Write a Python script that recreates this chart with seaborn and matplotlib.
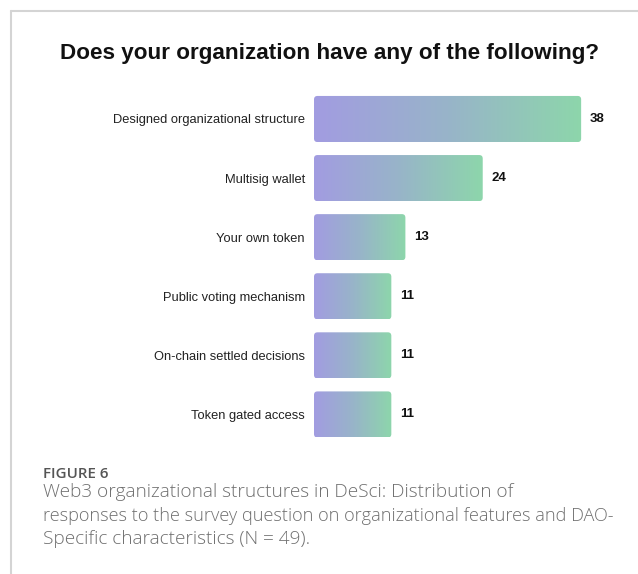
import numpy as np
import pandas as pd
import matplotlib
matplotlib.use("Agg")
import matplotlib.pyplot as plt
import seaborn as sns
from matplotlib.patches import FancyBboxPatch
from matplotlib.colors import LinearSegmentedColormap
from matplotlib.lines import Line2D

categories = ["Designed organizational structure", "Multisig wallet", "Your own token",
              "Public voting mechanism", "On-chain settled decisions", "Token gated access"]
values = [38, 24, 13, 11, 11, 11]
title = "Does your organization have any of the following?"
fig_label = "FIGURE 6"
caption_lines = ["Web3 organizational structures in DeSci: Distribution of",
                 "responses to the survey question on organizational features and DAO-",
                 "Specific characteristics (N = 49)."]

df = pd.DataFrame({"category": categories, "value": values})

sns.set_theme(style="white")
plt.rcParams['font.family'] = ['Liberation Sans', 'DejaVu Sans']

W, H = 638, 574
fig = plt.figure(figsize=(W/100, H/100), dpi=100)
ax = fig.add_axes([314/W, 1-444/H, (620-314)/W, (444-89.45)/H])

sns.barplot(data=df, x="value", y="category", orient="h", width=0.78, ax=ax, color="#a29de0")
ax.set_xlim(0, 306/7.03)
ax.set_ylim(5.5, -0.5)

cmap = LinearSegmentedColormap.from_list("g", ["#a29ce1", "#98b4c9", "#8dd6ab"])
grad = np.linspace(0, 1, 256).reshape(1, -1)
px_x = 7.03
px_y = 59.1
for p in list(ax.patches):
    x0, y0, w, h = p.get_x(), p.get_y(), p.get_width(), p.get_height()
    p.set_visible(False)
    r = 3.5/px_x
    fb = FancyBboxPatch((x0, y0), w, h, boxstyle=f"round,pad=0,rounding_size={r}",
                        mutation_aspect=px_x/px_y, facecolor="none", edgecolor="none",
                        transform=ax.transData)
    ax.add_patch(fb)
    im = ax.imshow(grad, cmap=cmap, aspect="auto", extent=(x0, x0+w, y0+h, y0),
                   interpolation="bilinear", zorder=2)
    im.set_clip_path(fb)
    ax.annotate(f"{int(w)}", xy=(x0+w, y0+h/2), xytext=(6, 0), textcoords="offset points",
                ha="left", va="center", fontsize=9.5, fontweight="bold", color="#111111")

ax.set_xlim(0, 306/7.03)
ax.set_ylim(5.5, -0.5)
ax.set_xlabel("")
ax.set_ylabel("")
ax.set_xticks([])
ax.tick_params(axis="y", length=0, pad=6.5, labelsize=9.3, labelcolor="#222222")
for s in ax.spines.values():
    s.set_visible(False)

fig.text(329/W, 1-54/H, title, ha="center", va="center", fontsize=16.2,
         fontweight="bold", color="#111111")

# frame lines
fig.add_artist(Line2D([11/W, 11/W], [0, 1-11/H], color="#d4d4d4", lw=1.5, transform=fig.transFigure))
fig.add_artist(Line2D([11/W, 1], [1-11/H, 1-11/H], color="#d4d4d4", lw=1.5, transform=fig.transFigure))

fig.text(43/W, 1-478/H, fig_label, ha="left", va="baseline", fontsize=10.9,
         color="#555555", family=["Open Sans", "DejaVu Sans"], fontweight="semibold")
sizes = [13.7, 13.1, 13.7]
for i, line in enumerate(caption_lines):
    fig.text(43/W, 1-(497+23.6*i)/H, line, ha="left", va="baseline", fontsize=sizes[i],
             color="#6f6f6f", family=["Open Sans", "DejaVu Sans"], fontweight="light")

fig.savefig("out.png", dpi=100)
